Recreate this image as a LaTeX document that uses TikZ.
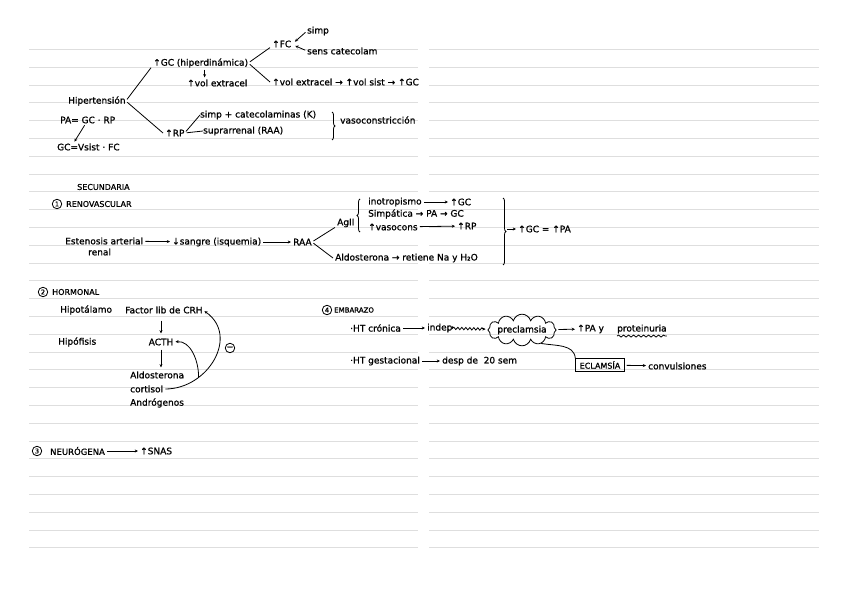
\documentclass[tikz,border=0pt]{standalone}
\usepackage{fontspec}
\setmainfont{DejaVu Sans}[FakeBold=0.9]
\usetikzlibrary{arrows.meta,decorations.pathreplacing,decorations.pathmorphing,shapes.symbols}

\begin{document}
\begin{tikzpicture}[x=1pt, y=-1pt,
    every node/.style={inner sep=0pt, font=\fontsize{9}{10}\selectfont},
    hd/.style={font=\fontsize{8}{9}\selectfont},
    num/.style={circle, draw, line width=.8pt, inner sep=.4pt, minimum size=9.5pt, font=\fontsize{6.5}{7}\selectfont},
    ln/.style={line width=.8pt},
    arr/.style={-{Stealth[length=3.2pt,width=3pt]}, line width=.8pt, shorten <=2pt, shorten >=2pt},
    brc/.style={line width=.8pt, decorate, decoration={brace, amplitude=3pt}},
    rule/.style={black!13, line width=.9pt}]
    \fill[white] (0,0) rectangle (848,599);
    \useasboundingbox (0,0) rectangle (848,599);
    \foreach \k in {0,...,28} {
      \draw[rule] (29,49.5+17.8*\k) -- (418,49.5+17.8*\k);
      \draw[rule] (429,49.5+17.8*\k) -- (819,49.5+17.8*\k);
    }

    \node[anchor=west] (hta) at (68,101) {Hipertensión};
    \node[anchor=west] (pa) at (60,120) {PA= GC · RP};
    \node[anchor=west] (gcf) at (57,147) {GC=Vsist · FC};
    \node[anchor=west] (gc) at (153,63) {↑GC (hiperdinámica)};
    \node[anchor=west] (volx) at (187,83) {↑vol extracel};
    \node[anchor=west] (fc) at (272,44) {↑FC};
    \node[anchor=west] (simp) at (307,31) {simp};
    \node[anchor=west] (sens) at (307,51) {sens catecolam};
    \node[anchor=west] (volsist) at (272,82) {↑vol extracel → ↑vol sist → ↑GC};
    \node[anchor=west] (rp) at (165,133) {↑RP};
    \node[anchor=west] (simpc) at (200,115) {simp + catecolaminas (K)};
    \node[anchor=west] (supra) at (203,131) {suprarrenal (RAA)};
    \node[anchor=west] (vaso) at (340,120) {vasoconstricción};
    \draw[ln, shorten <=2pt] (hta.east) -- ([xshift=-2pt]gc.south west);
    \draw[ln, shorten <=2pt] (hta.east) -- ([xshift=-2pt]rp.west);
    \draw[ln, shorten <=2pt] (gc.east) -- ([xshift=-2pt]fc.south west);
    \draw[ln, shorten <=2pt] (gc.east) -- ([xshift=-2pt]volsist.west);
    \draw[arr] ([xshift=4pt]gc.south) -- ([xshift=4pt]gc.south |- volx.north);
    \draw[arr] (simp.west) -- ([xshift=2pt,yshift=1pt]fc.east);
    \draw[arr] (sens.west) -- ([xshift=2pt,yshift=-1pt]fc.east);
    \draw[arr] ([xshift=-2pt]pa.south) -- ([xshift=-15pt]gcf.north);
    \draw[ln, shorten <=2pt] (rp.east) -- (simpc.west);
    \draw[ln, shorten <=2pt] (rp.east) -- (supra.west);
    \draw[brc] (332,112) -- (332,140);

    \node[hd, anchor=west] (sec) at (77,187) {SECUNDARIA};
    \node[num] (n1) at (57,204) {1};
    \node[hd, anchor=west] (reno) at (66,204) {RENOVASCULAR};
    \node[anchor=west] (est) at (65,241) {Estenosis arterial};
    \node[anchor=west] (renal) at (88,252) {renal};
    \node[anchor=west] (sangre) at (172,242) {↓sangre (isquemia)};
    \node[anchor=west] (raa) at (293,242) {RAA};
    \draw[arr] (est) -- (sangre);
    \draw[arr] (sangre) -- (raa);
    \node[anchor=west] (agii) at (337,223) {AgII};
    \node[anchor=west] (aldo) at (335,258) {Aldosterona → retiene Na y H₂O};
    \draw[ln, shorten <=2pt] (raa.east) -- ([xshift=-2pt]agii.south west);
    \draw[ln, shorten <=2pt] (raa.east) -- ([xshift=-2pt]aldo.west);
    \draw[brc] (360,232) -- (360,199);
    \node[anchor=west] (ino) at (368,202) {inotropismo};
    \node[anchor=west] (gc2) at (450,202) {↑GC};
    \node[anchor=west] (simpa) at (368,214) {Simpática → PA → GC};
    \node[anchor=west] (vasoc) at (368,227) {↑vasocons};
    \node[anchor=west] (rp2) at (457,226) {↑RP};
    \draw[arr] (ino) -- (gc2);
    \draw[arr] (vasoc) -- (rp2);
    \draw[brc] (503,198) -- (503,265);
    \coordinate (btip) at (507,229);
    \node[anchor=west] (res) at (518,229) {↑GC = ↑PA};
    \draw[arr, shorten <=0pt] (btip) -- (res);

    \node[num] (n2) at (43,292) {2};
    \node[hd, anchor=west] (horm) at (52,292) {HORMONAL};
    \node[anchor=west] (hipot) at (60,310) {Hipotálamo};
    \node[anchor=west] (crh) at (125,310) {Factor lib de CRH};
    \node[anchor=west] (hipof) at (58,342) {Hipófisis};
    \node (acth) at (161,342) {ACTH};
    \node[anchor=west] (aldo2) at (130,375) {Aldosterona};
    \node[anchor=west] (cort) at (130,389) {cortisol};
    \node[anchor=west] (andro) at (130,403) {Andrógenos};
    \draw[arr, shorten <=7pt, shorten >=5pt] (crh.south -| acth.north) -- (acth.north);
    \draw[arr, shorten <=4pt, shorten >=4pt] (acth) -- (acth |- aldo2.north);
    \draw[arr] (cort.east) to[out=0, in=-35, looseness=1.3] coordinate[pos=.3] (fb) (crh.east);
    \draw[arr, shorten <=0pt] (fb) to[out=90, in=5] (acth.east);
    \node[num, font=\fontsize{8}{8}\selectfont] (minus) at (230,348) {−};

    \node[num] (n4) at (327,310) {4};
    \node[hd, anchor=west, font=\fontsize{7}{8}\selectfont] (emb) at (334,310) {EMBARAZO};
    \node[anchor=west] (htc) at (350,328) {·HT crónica};
    \node[anchor=west] (indep) at (427,328) {indep};
    \draw[arr] (htc) -- (indep);
    \node[cloud, draw, line width=.8pt, cloud puffs=12, aspect=3.5, inner sep=-1pt] (precl) at (522,330) {preclamsia};
    \draw[arr, decorate, decoration={snake, amplitude=1.2pt, segment length=4pt, post length=3pt}] (indep) -- (precl);
    \node[anchor=west] (pay) at (577,329) {↑PA y};
    \node[anchor=west] (prot) at (617,329) {proteinuria};
    \draw[arr] (precl) -- (pay);
    \draw[ln, decorate, decoration={snake, amplitude=1pt, segment length=5pt}] ([yshift=-2.5pt]prot.south west) -- ([yshift=-2.5pt]prot.south east);
    \node[anchor=west] (htg) at (350,361) {·HT gestacional};
    \node[anchor=west] (desp) at (442,361) {desp de\ \ 20 sem};
    \draw[arr] (htg) -- (desp);
    \node[draw, line width=.8pt, inner xsep=4pt, inner ysep=2.5pt, font=\fontsize{8}{9}\selectfont] (eclam) at (600,365) {ECLAMSÍA};
    \draw[ln] (precl.-35) to[out=-10, in=95] (eclam.north west);
    \node[anchor=west] (conv) at (648,366) {convulsiones};
    \draw[arr] (eclam) -- (conv);

    \node[num] (n3) at (37,451) {3};
    \node[anchor=west, font=\fontsize{8.5}{9}\selectfont] (neuro) at (50,451) {NEURÓGENA};
    \node[anchor=west] (snas) at (140,451) {↑SNAS};
    \draw[arr] (neuro) -- (snas);
\end{tikzpicture}
\end{document}
